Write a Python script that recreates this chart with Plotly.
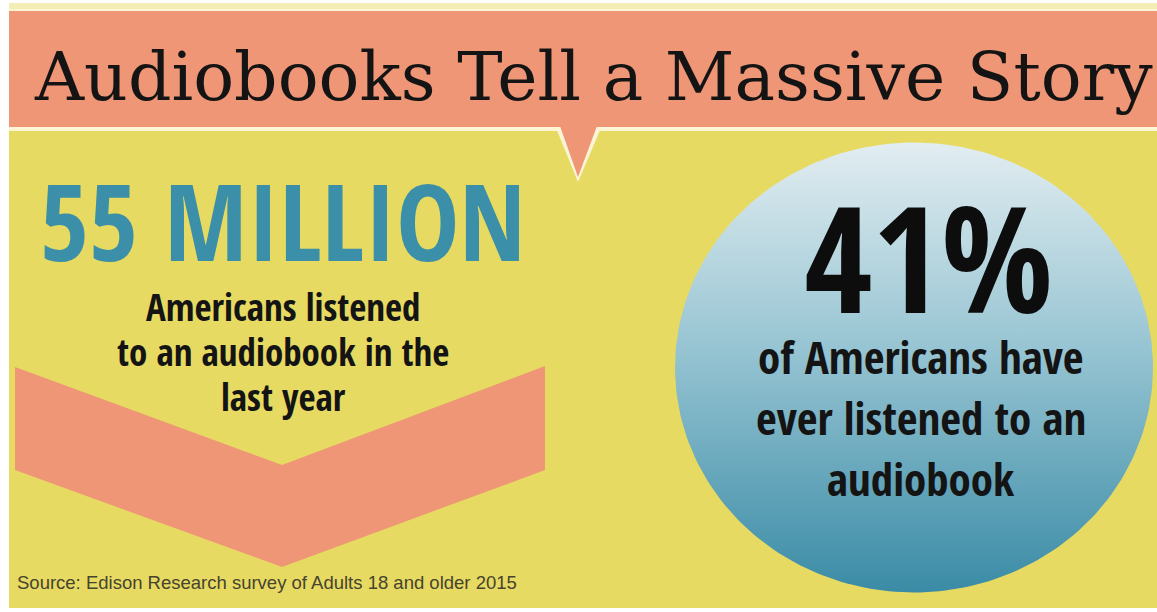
import numpy as np
import plotly.graph_objects as go

W, H = 1157, 612

# ---- content / data ----
title_text = "Audiobooks Tell a Massive Story"
stat_values = [55, 41]
stat_suffix = [" MILLION", "%"]
left_lines = ["Americans listened", "to an audiobook in the", "last year"]
right_lines = ["of Americans have", "ever listened to an", "audiobook"]
source_text = "Source: Edison Research survey of Adults 18 and older 2015"

# ---- colours ----
SALMON = "#ee9676"
YELLOW = "#e6da62"
CREAM = "#fbf5d6"
TEAL = "#3b8fa8"
INK = "#141414"

COND = "Open Sans Condensed, Roboto Condensed, DejaVu Sans Condensed, sans-serif"
SERIF = "DejaVu Serif, serif"

fig = go.Figure()

shapes = []
shapes.append(dict(type="rect", x0=9, x1=W, y0=3, y1=608, fillcolor=YELLOW, line_width=0, layer="below"))
shapes.append(dict(type="rect", x0=9, x1=W, y0=3, y1=9, fillcolor="#f4edb6", line_width=0, layer="below"))
# banner with cream border + speech pointer
shapes.append(dict(type="rect", x0=9, x1=W, y0=9, y1=131, fillcolor=CREAM, line_width=0, layer="below"))
shapes.append(dict(type="path", path="M 556,128 L 578,182 L 601,128 Z", fillcolor=CREAM, line_width=0, layer="below"))
shapes.append(dict(type="rect", x0=9, x1=W, y0=11, y1=127, fillcolor=SALMON, line_width=0, layer="below"))
shapes.append(dict(type="path", path="M 560,126 L 578,177 L 597,126 Z", fillcolor=SALMON, line_width=0, layer="below"))
# chevron
shapes.append(dict(type="path",
                   path="M 15,367 L 282,465 L 545,366 L 545,470 L 282,567 L 15,470 Z",
                   fillcolor=SALMON, line_width=0, layer="below"))

# circle (ellipse) with vertical gradient
cx, cy, rx, ry = 914, 367.5, 239, 225
t = np.linspace(0, 2 * np.pi, 241)
fig.add_trace(go.Scatter(
    x=cx + rx * np.cos(t), y=cy + ry * np.sin(t),
    mode="lines", line=dict(width=0, color="rgba(0,0,0,0)"),
    fill="toself",
    fillgradient=dict(type="vertical",
                      colorscale=[[0, "#e2edf1"], [0.45, "#98c5d3"], [1, "#3a8ba6"]],
                      start=cy - ry, stop=cy + ry),
    hoverinfo="skip", showlegend=False))

ann = []
ann.append(dict(x=593, y=76, text=title_text, showarrow=False, xanchor="center", yanchor="middle",
                font=dict(family=SERIF, size=68, color=INK)))
ann.append(dict(x=283, y=220, text=f"{stat_values[0]}{stat_suffix[0]}", showarrow=False,
                xanchor="center", yanchor="middle",
                font=dict(family=COND, size=106, color=TEAL, weight="bold")))
for i, line in enumerate(left_lines):
    ann.append(dict(x=283, y=306 + 45 * i, text=line, showarrow=False, xanchor="center", yanchor="middle",
                    font=dict(family=COND, size=37, color=INK, weight="bold")))
ann.append(dict(x=928, y=255, text=f"{stat_values[1]}{stat_suffix[1]}", showarrow=False,
                xanchor="center", yanchor="middle",
                font=dict(family=COND, size=148, color="#0d0d0d", weight="bold")))
for i, line in enumerate(right_lines):
    ann.append(dict(x=921, y=356 + 61 * i, text=line, showarrow=False, xanchor="center", yanchor="middle",
                    font=dict(family=COND, size=45, color=INK, weight="bold")))
ann.append(dict(x=15, y=582, text=source_text, showarrow=False, xanchor="left", yanchor="middle",
                font=dict(family="Liberation Sans, Arial, sans-serif", size=18.5, color="#46432f")))

fig.update_layout(
    width=W, height=H, margin=dict(l=0, r=0, t=0, b=0),
    paper_bgcolor="white", plot_bgcolor="white",
    xaxis=dict(range=[0, W], visible=False, fixedrange=True),
    yaxis=dict(range=[H, 0], visible=False, fixedrange=True),
    shapes=shapes, annotations=ann, showlegend=False,
)
fig.write_html("out.html", config={"displayModeBar": False},
               post_script="document.body.style.margin='0';document.body.style.overflow='hidden';")
